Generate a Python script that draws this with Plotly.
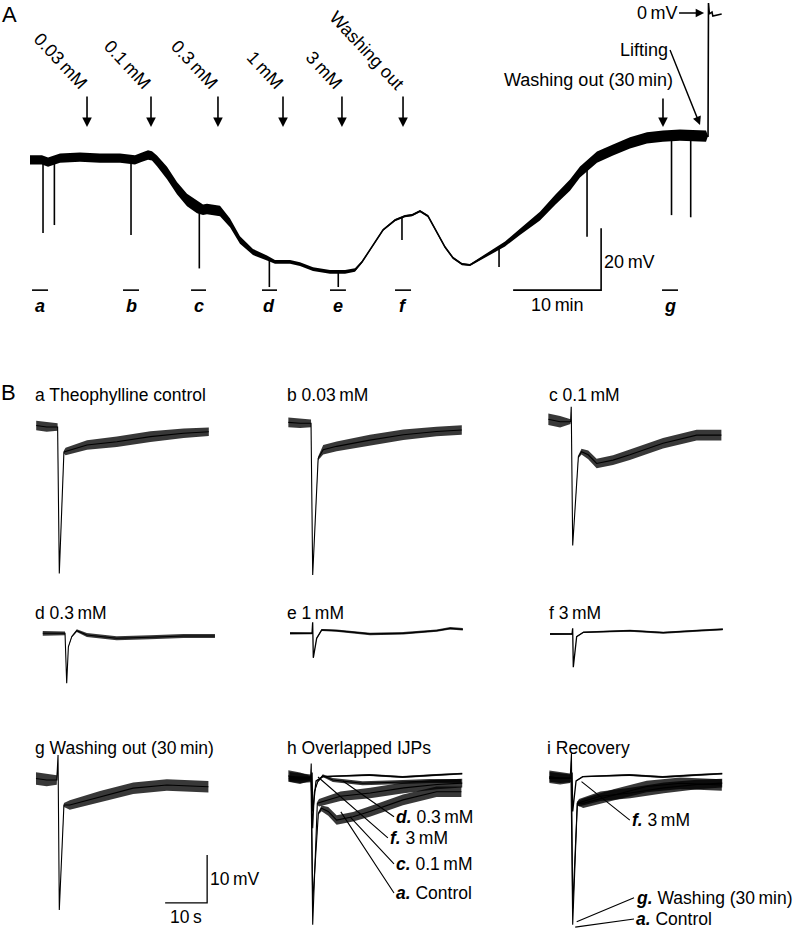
import numpy as np
import plotly.graph_objects as go

W, H = 800, 929
FONT = "Liberation Sans, Arial, sans-serif"
TS = "\u2009"  # thin space

# ---------------- Panel A: membrane potential (min, mV) ----------------
A_time = [0, 1.36, 2.05, 2.73, 3.41, 5.68, 7.95, 10.23, 11.14, 11.93, 12.73, 13.41, 13.86,
          14.43, 15.57, 16.7, 17.84, 18.98, 19.66, 20.11, 21.59, 22.73, 23.86, 25.34, 26.93,
          27.84, 29.55, 30.68, 32.16, 34.09, 35.8, 36.93, 37.73, 38.64, 40.11, 41.48, 42.61,
          43.41, 44.32, 45.23, 46.14, 47.16, 48.07, 49.09, 50.0, 51.14, 52.27, 53.98, 55.68,
          56.82, 57.95, 59.66, 61.36, 62.5, 64.43, 66.25, 68.18, 70.11, 71.93, 73.86, 76.82,
          77.05, 77.1, 77.2, 77.5, 77.6, 78.6]
A_mv = [-47.4, -47.4, -48.1, -47.4, -46.8, -46.5, -46.8, -46.8, -47.1, -47.4, -46.5, -45.8, -46.1,
        -47.7, -51.6, -56.5, -60.3, -62.6, -63.5, -63.2, -63.9, -67.7, -73.2, -77.1, -79.0,
        -80.3, -80.3, -81.0, -82.6, -83.5, -83.5, -82.9, -80.3, -76.5, -70.0, -66.8, -65.5,
        -65.2, -63.9, -65.5, -70.0, -75.5, -79.0, -81.0, -81.3, -79.4, -77.4, -74.5, -70.6,
        -68.1, -65.5, -60.3, -55.5, -51.3, -46.5, -44.2, -41.9, -40.3, -39.7, -39.4, -39.7,
        -39.7, 3.2, -0.3, 0.3, -1.0, -0.3]
A_noise = [1.5, 1.5, 1.5, 1.5, 1.5, 1.5, 1.5, 1.5, 1.5, 1.5, 1.5, 1.5, 1.5,
           1.7, 2.0, 2.0, 2.0, 2.0, 1.7, 1.7, 1.7, 1.4, 1.2, 1.0, 0.8,
           0.6, 0.6, 0.6, 0.6, 0.6, 0.6, 0.6, 0.35, 0.35, 0.35, 0.35, 0.35,
           0.35, 0.35, 0.35, 0.35, 0.35, 0.35, 0.35, 0.35, 0.5, 0.6, 0.8, 1.0,
           1.2, 1.4, 1.6, 1.8, 1.8, 1.8, 1.8, 1.8, 1.8, 1.8, 1.8, 1.8,
           0, 0, 0, 0, 0, 0]
A_spike_time = [1.48, 2.77, 11.48, 19.24, 27.2, 35.03, 42.27, 53.3, 63.3, 72.9, 75.08]
A_spike_min = [-71.0, -68.4, -71.6, -82.4, -88.4, -88.4, -73.2, -81.9, -72.2, -65.2, -65.9]
A_event_time = [6.48, 13.75, 21.36, 28.75, 35.45, 42.39]
A_event_label = ["0.03" + TS + "mM", "0.1" + TS + "mM", "0.3" + TS + "mM", "1" + TS + "mM",
                 "3" + TS + "mM", "Washing out"]
A_wash30_time = 71.93
A_lift_time, A_lift_mv = 76.14, -36.1
A_zero_time = 76.6
A_win_start = [0.23, 10.57, 18.3, 26.36, 34.09, 41.48, 71.82]
A_win_end = [2.05, 12.39, 20.0, 28.07, 35.9, 43.3, 73.64]
A_win_label = ["a", "b", "c", "d", "e", "f", "g"]
A_SCALE_MIN, A_SCALE_MV = 10, 20

# ---------------- Panel B: IJPs (s from stimulus, mV from baseline) ----------------
a_t = [-5.5, -3, -0.4, 0, 1.1, 1.5, 6.6, 13.7, 21.7, 29.6, 35.6]
a_mv = [0.3, 0, 0, -30.5, -5.2, -5.1, -3.75, -3.06, -2.0, -1.3, -1.0]
a_noise = [1.0, 1.0, 0.8, 0, 0.3, 0.8, 1.0, 1.1, 1.1, 1.0, 0.9]

b_t = [-5.8, -3, -0.4, 0, 1.3, 2.5, 5.7, 13.6, 21.6, 29.5, 35.5]
b_mv = [0.2, 0, 0, -31.6, -7.3, -5.5, -4.8, -3.5, -2.4, -1.7, -1.4]
b_noise = [1.0, 1.0, 0.8, 0, 0.4, 1.0, 1.0, 1.1, 1.1, 1.0, 1.0]

c_t = [-5.8, -3, -0.5, -0.35, 0, 1.35, 2.1, 3.7, 5.7, 9.6, 13.6, 21.5, 29.5, 35.4]
c_mv = [0.5, 0, 0, 3.1, -25.8, -7.3, -6.25, -6.9, -8.7, -8.0, -6.9, -4.5, -2.8, -2.8]
c_noise = [1.2, 1.2, 0.5, 0, 0, 0.3, 0.6, 0.9, 1.0, 1.0, 1.1, 1.1, 1.1, 1.1]

d_t = [-5.7, -3, -0.4, 0, 0.4, 1.2, 2.4, 4.8, 11.9, 19.8, 27.8, 35.3]
d_mv = [0, 0, 0, -10.4, -2.8, -0.7, 0.55, -0.35, -1.04, -0.83, -0.56, -0.56]
d_noise = [0.5, 0.5, 0.4, 0, 0.1, 0.2, 0.3, 0.4, 0.4, 0.4, 0.4, 0.4]

e_t = [-5.55, -3, -0.3, -0.15, 0, 0.8, 2.0, 5.5, 13.5, 21.4, 29.4, 32.6, 35.6]
e_mv = [0, 0, 0, 2.3, -5.1, -1.04, 0.7, 0.55, -0.14, 0, 0.55, 1.04, 0.83]
e_noise = [0.25, 0.25, 0.2, 0, 0, 0.1, 0.2, 0.25, 0.25, 0.25, 0.25, 0.25, 0.25]

f_t = [-5.55, -3, -0.3, -0.15, 0, 0.8, 2.4, 13.5, 21.4, 29.4, 35.6]
f_mv = [0, 0, 0, 1.2, -6.9, -0.55, 0.35, 0.69, 0.27, 0.69, 0.98]
f_noise = [0.2, 0.2, 0.15, 0, 0, 0.1, 0.15, 0.2, 0.2, 0.2, 0.2]

g_t = [-5.55, -3, -0.6, -0.3, 0, 1.1, 2.5, 9.7, 17.6, 25.6, 35.5]
g_mv = [0.3, 0, 0, 5.2, -27.1, -5.2, -5.2, -3.5, -1.7, -1.04, -1.4]
g_noise = [1.3, 1.3, 1.0, 0, 0, 0.4, 1.0, 1.2, 1.2, 1.2, 1.2]

B_titles = ["a Theophylline control", "b 0.03" + TS + "mM", "c 0.1" + TS + "mM",
            "d 0.3" + TS + "mM", "e 1" + TS + "mM", "f 3" + TS + "mM",
            "g Washing out (30" + TS + "min)", "h Overlapped IJPs", "i Recovery"]
B_SCALE_S, B_SCALE_MV = 10, 10

H_label = ["<b><i>d.</i></b> 0.3" + TS + "mM", "<b><i>f.</i></b> 3" + TS + "mM",
           "<b><i>c.</i></b> 0.1" + TS + "mM", "<b><i>a.</i></b> Control"]
H_tip_t = [7.2, 1.26, 8.9, 6.7]
H_tip_mv = [-0.56, 0.27, -8.06, -7.0]
H_tail_t = [19.36, 17.9, 19.36, 19.36]
H_tail_mv = [-8.0, -12.4, -17.85, -23.9]

I_label = ["<b><i>f.</i></b> 3" + TS + "mM", "<b><i>g.</i></b> Washing (30" + TS + "min)",
           "<b><i>a.</i></b> Control"]
I_tip_t = [2.1, 0.95, 0.6]
I_tip_mv = [-0.7, -29.9, -31.0]
I_tail_t = [13.6, 14.6, 14.6]
I_tail_mv = [-8.7, -24.9, -29.3]

# ---------------- layout helpers (pixel placement of each panel) ----------------
# (origin x px, origin y px, px per x-unit, px per y-unit)
PANELS = {
    "A": (30, 13, 8.8, 3.1),
    "a": (59.3, 427, 4.2, 4.8),
    "b": (312.7, 423.3, 4.2, 4.8),
    "c": (572.7, 421.7, 4.2, 4.8),
    "d": (66.7, 633.3, 4.2, 4.8),
    "e": (313.3, 633.3, 4.2, 4.8),
    "f": (573.3, 634, 4.2, 4.8),
    "g": (59.3, 780, 4.2, 4.8),
    "h": (312.7, 778.3, 4.2, 4.8),
    "i": (572.7, 778.3, 4.2, 4.8),
}
AX = {}
layout_axes = {}
for i, (name, (x0, y0, ppx, ppy)) in enumerate(PANELS.items(), start=1):
    xs = "x" if i == 1 else f"x{i}"
    ys = "y" if i == 1 else f"y{i}"
    AX[name] = (xs, ys, ppx, ppy)
    layout_axes["xaxis" if i == 1 else f"xaxis{i}"] = dict(
        domain=[0, 1], anchor=ys, range=[-x0 / ppx, (W - x0) / ppx], visible=False, fixedrange=True)
    layout_axes["yaxis" if i == 1 else f"yaxis{i}"] = dict(
        domain=[0, 1], anchor=xs, range=[-(H - y0) / ppy, y0 / ppy], visible=False, fixedrange=True)


def px(x):
    return x / W


def py(y):
    return 1 - y / H


fig = go.Figure()


def add_noisy(panel, t, v, n, band="black", lw=1.2):
    xs, ys, _, _ = AX[panel]
    t = np.asarray(t, float)
    v = np.asarray(v, float)
    n = np.asarray(n, float)
    common = dict(xaxis=xs, yaxis=ys, showlegend=False, hoverinfo="skip", mode="lines")
    fig.add_trace(go.Scatter(x=t, y=v + n, line=dict(width=0, color=band), **common))
    fig.add_trace(go.Scatter(x=t, y=v - n, line=dict(width=0, color=band), fill="tonexty",
                             fillcolor=band, **common))
    fig.add_trace(go.Scatter(x=t, y=v, line=dict(width=lw, color="black"), **common))


def add_line(panel, x, y, width=1.5):
    xs, ys, _, _ = AX[panel]
    fig.add_trace(go.Scatter(x=x, y=y, mode="lines", line=dict(color="black", width=width),
                             xaxis=xs, yaxis=ys, showlegend=False, hoverinfo="skip"))


annotations = []


def ann(panel, **kw):
    xs, ys, _, _ = AX[panel]
    d = dict(xref=xs, yref=ys, font=dict(family=FONT, size=18, color="black"))
    d.update(kw)
    annotations.append(d)


# ---------- Panel A ----------
add_noisy("A", A_time, A_mv, A_noise, band="black", lw=1.6)
sx, sy = [], []
for t, m in zip(A_spike_time, A_spike_min):
    sx += [t, t, None]
    sy += [float(np.interp(t, A_time, A_mv)), m, None]
add_line("A", sx, sy, width=1.6)

_, _, ppxA, ppyA = AX["A"]
ARROW_TIP = -36.8
ARROW_LEN_PX = 32
for t, lab in zip(A_event_time, A_event_label):
    ann("A", x=t, y=ARROW_TIP, ax=0, ay=-ARROW_LEN_PX, text="", showarrow=True,
        arrowhead=2, arrowsize=1.2, arrowwidth=1.6, arrowcolor="black")
    ann("A", x=t, y=ARROW_TIP + ARROW_LEN_PX / ppyA, text=lab, showarrow=False, textangle=47,
        xanchor="right", yanchor="bottom", xshift=7, yshift=-1)

# Washing out (30 min)
ann("A", x=A_wash30_time, y=ARROW_TIP, ax=0, ay=-30, text="", showarrow=True,
    arrowhead=2, arrowsize=1.2, arrowwidth=1.6, arrowcolor="black")
ann("A", x=A_wash30_time, y=-21.6, text="Washing out (30" + TS + "min)", showarrow=False,
    xanchor="right", yanchor="middle", xshift=12)
# Lifting (label box's right edge sits at the arrow tail)
ann("A", x=A_lift_time, y=A_lift_mv, ax=-30, ay=-75, text="Lifting", showarrow=True,
    xanchor="right", yanchor="middle",
    arrowhead=2, arrowsize=1.2, arrowwidth=1.4, arrowcolor="black")
# 0 mV
ann("A", x=A_zero_time, y=0, ax=-47, ay=0, text="0" + TS + "mV", showarrow=True,
    arrowhead=2, arrowsize=1.2, arrowwidth=1.4, arrowcolor="black")

# sample windows
WIN_Y = -89.4
wx, wy = [], []
for s, e in zip(A_win_start, A_win_end):
    wx += [s, e, None]
    wy += [WIN_Y, WIN_Y, None]
add_line("A", wx, wy, width=1.6)
for s, e, lab in zip(A_win_start, A_win_end, A_win_label):
    ann("A", x=(s + e) / 2, y=WIN_Y, text=f"<b><i>{lab}</i></b>", showarrow=False,
        yanchor="top", yshift=-4)

# scale bar A
SA_T, SA_V = 64.9, -89.4
add_line("A", [SA_T - A_SCALE_MIN, SA_T, SA_T], [SA_V, SA_V, SA_V + A_SCALE_MV], width=1.6)
ann("A", x=SA_T, y=SA_V + A_SCALE_MV * 0.45, text="20" + TS + "mV", showarrow=False,
    xanchor="left", xshift=1)
ann("A", x=SA_T - A_SCALE_MIN / 2, y=SA_V, text="10" + TS + "min", showarrow=False,
    yanchor="top", yshift=-3)

# ---------- Panel B ----------
BAND = "rgba(0,0,0,0.78)"
add_noisy("a", a_t, a_mv, a_noise, band=BAND, lw=1.1)
add_noisy("b", b_t, b_mv, b_noise, band=BAND, lw=1.1)
add_noisy("c", c_t, c_mv, c_noise, band=BAND, lw=1.1)
add_noisy("d", d_t, d_mv, d_noise, band=BAND, lw=1.1)
add_noisy("e", e_t, e_mv, e_noise, band=BAND, lw=1.3)
add_noisy("f", f_t, f_mv, f_noise, band=BAND, lw=1.3)
add_noisy("g", g_t, g_mv, g_noise, band=BAND, lw=1.1)
# h: overlapped
add_noisy("h", a_t, a_mv, a_noise, band=BAND, lw=1.1)
add_noisy("h", c_t, c_mv, c_noise, band=BAND, lw=1.1)
add_noisy("h", d_t, d_mv, d_noise, band=BAND, lw=1.1)
add_noisy("h", f_t, f_mv, f_noise, band=BAND, lw=1.3)
# i: recovery
add_noisy("i", a_t, a_mv, a_noise, band=BAND, lw=1.1)
add_noisy("i", g_t, g_mv, g_noise, band=BAND, lw=1.1)
add_noisy("i", f_t, f_mv, f_noise, band=BAND, lw=1.3)

BFONT = dict(family=FONT, size=17.5, color="black")
# leader labels
for lab, tt, tm, at, am in zip(H_label, H_tip_t, H_tip_mv, H_tail_t, H_tail_mv):
    ann("h", x=tt, y=tm, ax=at, ay=am, axref=AX["h"][0], ayref=AX["h"][1], text=lab,
        showarrow=True, arrowhead=0, arrowwidth=1.1, arrowcolor="black", xanchor="left",
        font=BFONT)
for lab, tt, tm, at, am in zip(I_label, I_tip_t, I_tip_mv, I_tail_t, I_tail_mv):
    ann("i", x=tt, y=tm, ax=at, ay=am, axref=AX["i"][0], ayref=AX["i"][1], text=lab,
        showarrow=True, arrowhead=0, arrowwidth=1.1, arrowcolor="black", xanchor="left",
        font=BFONT)

# scale bar B (in panel g)
SB_T, SB_V = 35.2, -25.6
add_line("g", [SB_T - B_SCALE_S, SB_T, SB_T], [SB_V, SB_V, SB_V + B_SCALE_MV], width=1.3)
ann("g", x=SB_T, y=SB_V + B_SCALE_MV * 0.5, text="10" + TS + "mV", showarrow=False,
    xanchor="left", xshift=1, font=BFONT)
ann("g", x=SB_T - B_SCALE_S / 2, y=SB_V, text="10" + TS + "s", showarrow=False,
    yanchor="top", yshift=-2, font=BFONT)

# panel titles (pixel placement)
TITLE_POS = [(33, 395), (285, 395), (547, 395), (33, 613), (285, 613), (547, 613),
             (33, 748), (285, 748), (545, 748)]
for txt, (x, y) in zip(B_titles, TITLE_POS):
    annotations.append(dict(xref="paper", yref="paper", x=px(x), y=py(y), text=txt,
                            showarrow=False, xanchor="left", yanchor="middle", font=BFONT))

# panel letters
for txt, (x, y) in zip(["A", "B"], [(0, 15), (-1, 392)]):
    annotations.append(dict(xref="paper", yref="paper", x=px(x), y=py(y), text=txt,
                            showarrow=False, xanchor="left", yanchor="middle",
                            font=dict(family=FONT, size=22, color="black")))

fig.update_layout(
    width=W, height=H, margin=dict(l=0, r=0, t=0, b=0),
    paper_bgcolor="white", plot_bgcolor="rgba(0,0,0,0)",
    showlegend=False, annotations=annotations, **layout_axes,
)
fig.write_html("out.html", config={"displayModeBar": False, "staticPlot": True},
               post_script="document.body.style.margin='0';document.body.style.overflow='hidden';")
